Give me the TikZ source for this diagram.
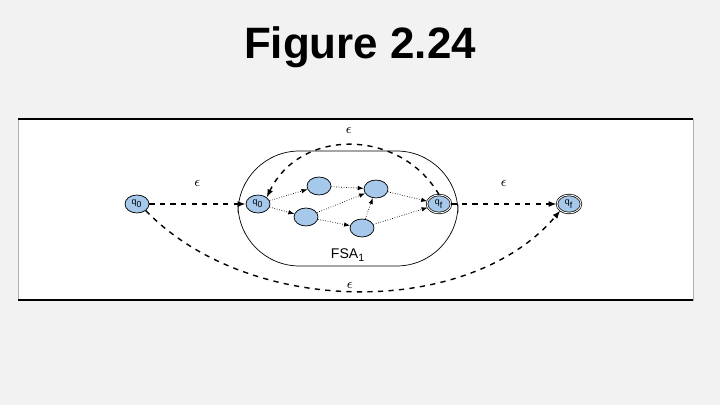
\documentclass[tikz,border=0pt]{standalone}
\usepackage{fontspec}
\setmainfont{Liberation Sans}
\usetikzlibrary{positioning,shapes.geometric,arrows.meta}
\definecolor{stateblue}{RGB}{165,200,235}
\definecolor{pagegray}{RGB}{242,242,242}
\tikzset{
    fsa/.style={
        x=0.02cm, y=-0.02cm,
        % stati dell'automa
        state/.style={draw, ellipse, fill=stateblue, minimum width=4.8mm,
                      minimum height=3.6mm, inner sep=0pt, font=\fontsize{5}{5}\selectfont},
        final/.style={state, double, double distance=0.5pt},
        % archi interni
        inner/.style={-{Latex[length=1.2mm]}, densely dotted, thin},
        % archi epsilon
        eps/.style={-{Latex[length=1.6mm]}, dashed, thick},
        lab/.style={font=\fontsize{8}{8}\selectfont}
    }
}
\begin{document}
\begin{tikzpicture}[fsa]
        \useasboundingbox[fill=pagegray] (0,0) rectangle (720,405);
        % Titolo
        \node[font=\fontsize{25}{25}\selectfont\bfseries] (title) at (360,47) {Figure 2.24};

        % Pannello bianco
        \draw[fill=white, draw=gray!60] (18,119) rectangle (693,300);
        \draw[thick] (18,119) -- (693,119);
        \draw[thick] (18,300) -- (693,300);

        % Riquadro FSA
        \draw[rounded corners=35, thin] (238,151) rectangle (458,266);
        \node[font=\fontsize{8}{8}\selectfont] (fsalab) at (348,255) {FSA\textsubscript{1}};

        % Stati
        \node[state] (s) at (137,204) {q\textsubscript{0}};
        \node[state] (a0) at (258,204) {q\textsubscript{0}};
        \node[state] (a1) at (319,186) {};
        \node[state] (a2) at (306,217) {};
        \node[state] (a3) at (376,189) {};
        \node[state] (a4) at (362,228) {};
        \node[final] (af) at (439,204) {q\textsubscript{f}};
        \node[final] (f) at (569,204) {q\textsubscript{f}};

        % Archi interni
        \draw[inner] (a0) -- (a1);
        \draw[inner] (a0) -- (a2);
        \draw[inner] (a1) -- (a3);
        \draw[inner] (a2) -- (a3);
        \draw[inner] (a2) -- (a4);
        \draw[inner] (a4) -- (a3);
        \draw[inner] (a3) -- (af);
        \draw[inner] (a4) -- (af);

        % Archi epsilon
        \draw[eps] (s) -- node[lab, above=6pt] {$\epsilon$} (a0);
        \draw[eps] (af) -- node[lab, above=6pt] {$\epsilon$} (f);
        \draw[eps] (af.north) .. controls (400,128) and (300,128) .. (a0.north east);
        \node[lab] (e3) at (349,130) {$\epsilon$};
        \draw[eps] (s.south east) .. controls (250,318) and (470,318) .. (f.south west);
        \node[lab] (e4) at (350,285) {$\epsilon$};
\end{tikzpicture}
\end{document}
